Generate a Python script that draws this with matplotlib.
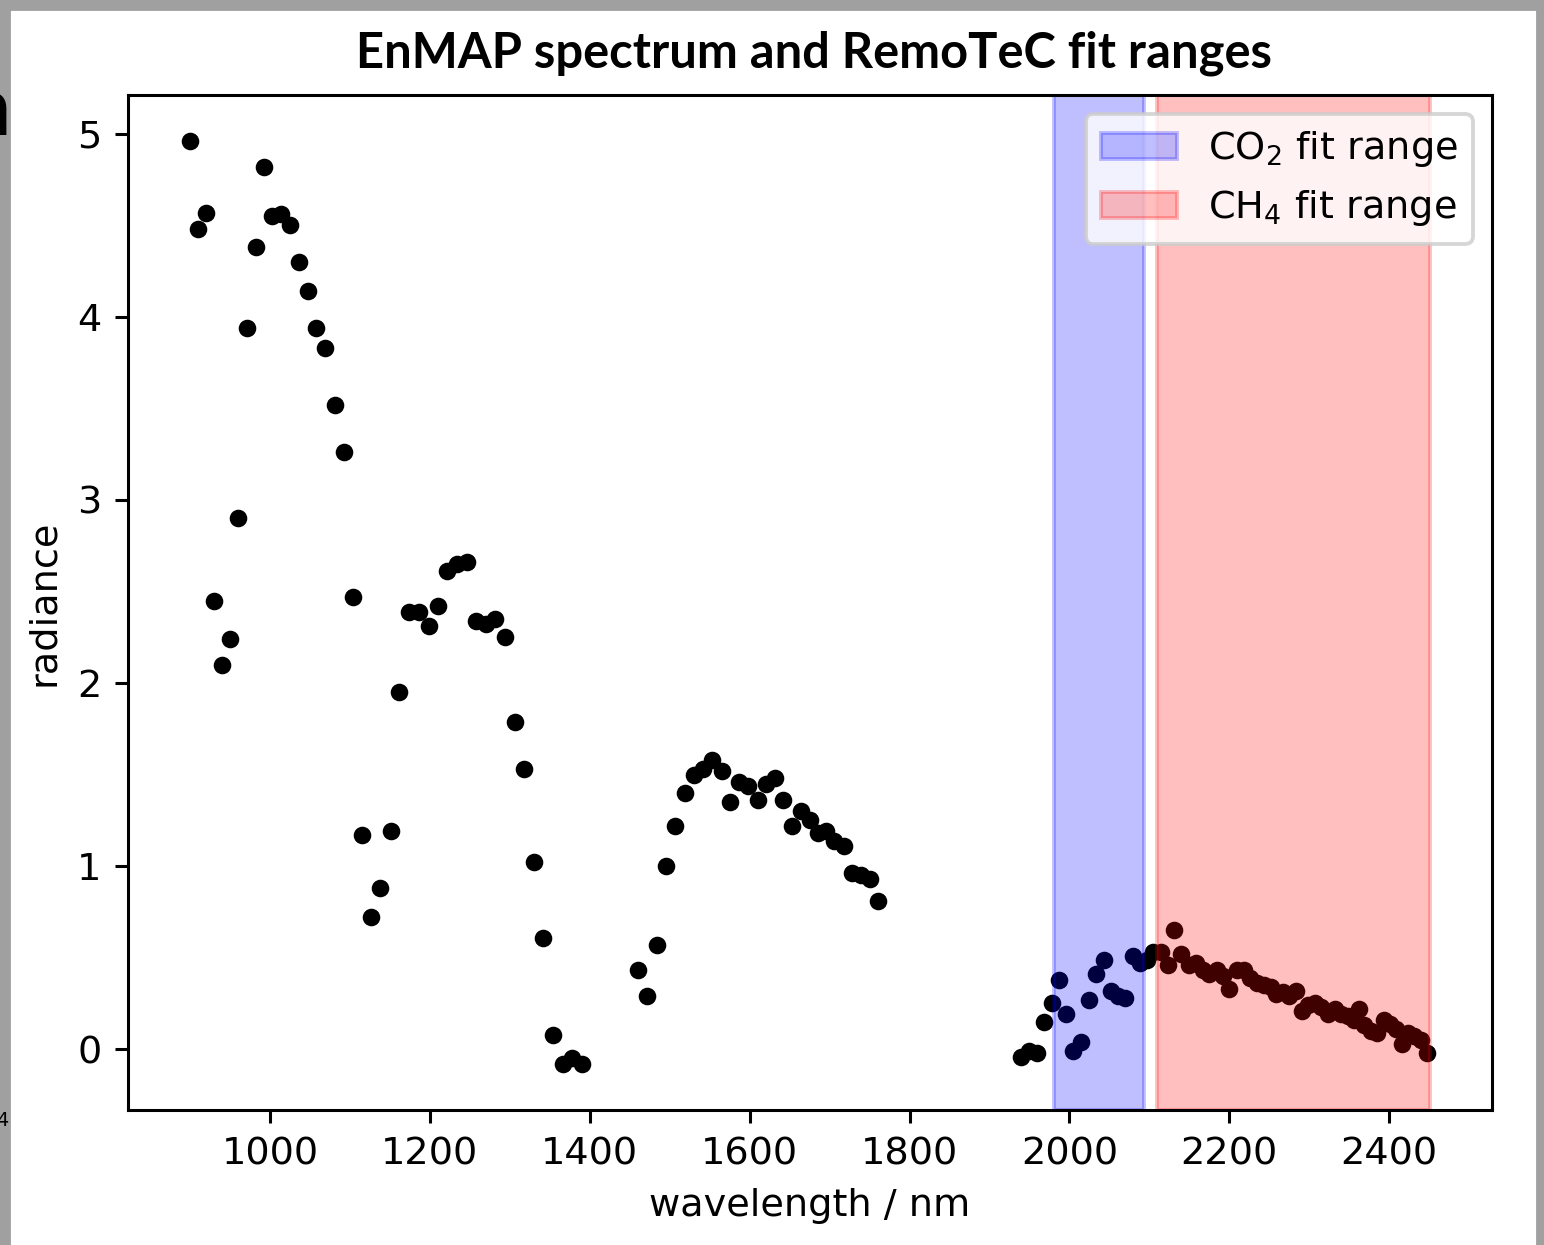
import matplotlib
matplotlib.use("Agg")
import matplotlib.pyplot as plt
from matplotlib.patches import Rectangle

# EnMAP spectrum
wl_a = [900, 910, 920, 930, 940, 950, 960, 971, 982, 993,
        1003, 1014, 1025, 1036, 1047, 1058, 1069, 1081, 1092, 1104,
        1115, 1127, 1138, 1151, 1162, 1174, 1187, 1199, 1210, 1222,
        1234, 1246, 1258, 1270, 1282, 1294, 1306, 1318, 1330, 1342,
        1354, 1366, 1378, 1390]
rad_a = [4.96, 4.48, 4.57, 2.45, 2.10, 2.24, 2.90, 3.94, 4.38, 4.82,
         4.55, 4.56, 4.50, 4.30, 4.14, 3.94, 3.83, 3.52, 3.26, 2.47,
         1.17, 0.72, 0.88, 1.19, 1.95, 2.39, 2.39, 2.31, 2.42, 2.61,
         2.65, 2.66, 2.34, 2.32, 2.35, 2.25, 1.79, 1.53, 1.02, 0.61,
         0.08, -0.08, -0.05, -0.08]

wl_b = [1460, 1472, 1484, 1495, 1507, 1519, 1530, 1542, 1553, 1565,
        1576, 1587, 1598, 1610, 1621, 1632, 1642, 1653, 1664, 1675,
        1685, 1696, 1706, 1718, 1728, 1739, 1750, 1760]
rad_b = [0.43, 0.29, 0.57, 1.00, 1.22, 1.40, 1.50, 1.53, 1.58, 1.52,
         1.35, 1.46, 1.44, 1.36, 1.45, 1.48, 1.36, 1.22, 1.30, 1.25,
         1.18, 1.19, 1.14, 1.11, 0.96, 0.95, 0.93, 0.81]

wl_c = [1939, 1949, 1959, 1968, 1978, 1987, 1996, 2005, 2015, 2024,
        2033, 2043, 2052, 2061, 2070, 2079, 2088, 2097, 2105, 2115,
        2123, 2131, 2140, 2149, 2158, 2167, 2175, 2184, 2192, 2200,
        2209, 2218, 2226, 2235, 2243, 2252, 2259, 2267, 2275, 2283,
        2291, 2299, 2307, 2315, 2324, 2332, 2340, 2348, 2356, 2362,
        2369, 2377, 2385, 2394, 2401, 2408, 2416, 2423, 2431, 2440,
        2447]
rad_c = [-0.04, -0.01, -0.02, 0.15, 0.25, 0.38, 0.19, -0.01, 0.04, 0.27,
         0.41, 0.49, 0.32, 0.29, 0.28, 0.51, 0.47, 0.49, 0.53, 0.53,
         0.46, 0.65, 0.52, 0.46, 0.47, 0.43, 0.41, 0.43, 0.40, 0.33,
         0.43, 0.43, 0.39, 0.36, 0.35, 0.34, 0.30, 0.31, 0.29, 0.32,
         0.21, 0.24, 0.25, 0.23, 0.19, 0.22, 0.19, 0.18, 0.16, 0.22,
         0.13, 0.10, 0.09, 0.16, 0.14, 0.11, 0.03, 0.09, 0.07, 0.05,
         -0.02]

co2_range = (1981, 2093)
ch4_range = (2109, 2451)

wavelength = wl_a + wl_b + wl_c
radiance = rad_a + rad_b + rad_c

fig = plt.figure(figsize=(1544 / 275, 1245 / 275), dpi=275)
ax = fig.add_axes([128 / 1544, 1 - 1110 / 1245, 1364 / 1544, 1015 / 1245])

# points sit under the shaded ranges, as in the original
ax.plot(wavelength, radiance, "o", color="black", ms=3.6, zorder=0.9)
ax.axvspan(*co2_range, color="blue", alpha=0.25, label=r"CO$_2$ fit range")
ax.axvspan(*ch4_range, color="red", alpha=0.25, label=r"CH$_4$ fit range")

ax.set_xlabel("wavelength / nm")
ax.set_ylabel("radiance")
ax.legend(loc="upper right")

# slide title and frame around the pasted figure
fig.text(814 / 1544, 1 - 53 / 1245, "EnMAP spectrum and RemoTeC fit ranges",
         ha="center", va="center", fontsize=12.8, fontweight="bold", family="Lato")
grey = "#a0a0a0"
fig.patches.append(Rectangle((0, 0), 9 / 1544, 1, color=grey, transform=fig.transFigure, figure=fig))
fig.patches.append(Rectangle((0, 1 - 9 / 1245), 1, 9 / 1245, color=grey, transform=fig.transFigure, figure=fig))
fig.patches.append(Rectangle((1538 / 1544, 0), 6 / 1544, 1, color=grey, transform=fig.transFigure, figure=fig))
fig.text(11 / 1544, 1 - 112 / 1245, "n", ha="right", va="center", fontsize=22, family="Lato")
fig.text(8 / 1544, 1 - 1120 / 1245, "4", ha="right", va="center", fontsize=5)

fig.savefig("out.png", dpi=275)
